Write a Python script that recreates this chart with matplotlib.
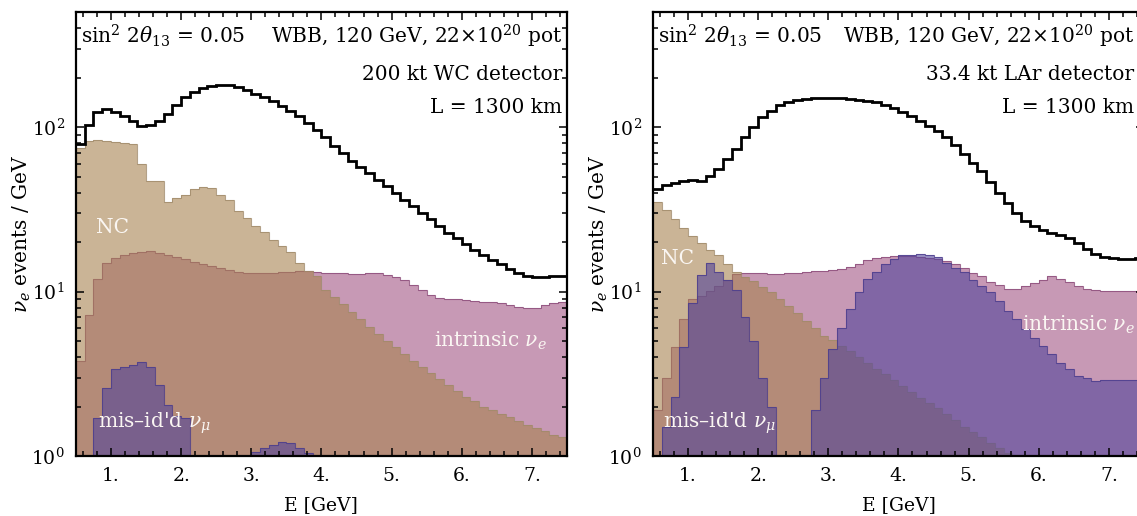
import numpy as np
import matplotlib
matplotlib.use("Agg")
import matplotlib.pyplot as plt
from matplotlib.ticker import LogLocator, MultipleLocator, FixedLocator, FuncFormatter, LogFormatterMathtext, NullFormatter

# ---- binning (GeV) ----
E_MIN, E_MAX, BIN_W = 0.5, 7.5, 0.125
edges = np.arange(E_MIN, E_MAX + BIN_W / 2, BIN_W)

# ---- 200 kt water Cherenkov detector (events / GeV per bin) ----
wc_total = [79, 103, 124, 130, 124, 118, 110, 102, 103, 110,
            121, 136, 153, 164, 173, 178, 182, 180, 176, 168,
            160, 153, 144, 134, 126, 118, 107, 97, 87, 77,
            70, 62.5, 57, 52.5, 48, 44, 40, 36, 33, 30,
            27.5, 25, 22.8, 21.2, 19.5, 18, 16.8, 15.6, 14.7, 13.8,
            13.0, 12.4, 12.2, 12.2, 12.4, 12.5]
wc_nc = [75, 83, 84, 83, 81, 80, 79, 60, 47, 47,
         35, 37, 39, 42, 43.5, 43, 39, 36, 31, 28,
         25, 23, 20.5, 19, 17.5, 15, 13.4, 12.5, 10.3, 9.3,
         8.4, 7.5, 6.8, 6.1, 5.5, 5.0, 4.6, 4.2, 3.8, 3.5,
         3.2, 2.95, 2.7, 2.5, 2.3, 2.15, 2.0, 1.9, 1.8, 1.72,
         1.63, 1.55, 1.48, 1.41, 1.35, 1.3]
wc_intrinsic = [3.8, 7.2, 12, 15, 16, 16.8, 17.2, 17.5, 17.6, 17.3,
                16.8, 16.2, 15.7, 15.2, 14.8, 14.3, 13.9, 13.5, 13.2, 13.0,
                13.0, 13.0, 13.0, 13.1, 13.2, 13.3, 13.4, 13.2, 13.0, 12.9,
                12.9, 12.8, 12.8, 12.9, 12.9, 12.7, 12.3, 11.8, 11.0, 10.2,
                9.5, 9.1, 9.0, 9.0, 8.9, 8.8, 8.7, 8.6, 8.5, 8.3,
                8.1, 7.9, 8.0, 8.3, 8.5, 8.6]
wc_misid = [0.5, 0.5, 1.7, 2.6, 3.4, 3.5, 3.6, 3.75, 3.5, 2.7,
            2.05, 1.75, 1.7, 0.5, 0.5, 0.5, 0.5, 0.5, 0.5, 0.5,
            1.06, 1.12, 1.17, 1.22, 1.2, 1.12, 1.05, 0.5, 0.5, 0.5,
            0.5, 0.5, 0.5, 0.5, 0.5, 0.5, 0.5, 0.5, 0.5, 0.5,
            0.5, 0.5, 0.5, 0.5, 0.5, 0.5, 0.5, 0.5, 0.5, 0.5,
            0.5, 0.5, 0.5, 0.5, 0.5, 0.5]

# ---- 33.4 kt liquid argon detector ----
lar_total = [42.4, 44.4, 46, 47, 48, 47, 50.6, 55.6, 64, 73.6,
             87, 100, 115, 126, 136, 142, 146, 148, 150, 151,
             151, 150, 149, 147, 145, 142, 137, 131, 124, 117,
             110, 102, 95, 87, 78, 69, 61, 54, 46.5, 40,
             34.7, 30, 26.8, 25, 23.8, 22.7, 22.2, 21.2, 19.7, 18.2,
             17, 16.3, 16, 15.8, 15.8, 16]
lar_nc = [35, 31.6, 27.5, 24.5, 21.7, 19.8, 18.0, 16.6, 14.8, 13.2,
          12.3, 11.6, 10.7, 9.9, 9.0, 8.2, 7.4, 6.6, 6.0, 5.4,
          5.1, 4.7, 4.35, 4.0, 3.7, 3.4, 3.15, 2.9, 2.65, 2.45,
          2.25, 2.1, 1.95, 1.8, 1.65, 1.5, 1.4, 1.3, 1.2, 1.12,
          1.04, 0.5, 0.5, 0.5, 0.5, 0.5, 0.5, 0.5, 0.5, 0.5,
          0.5, 0.5, 0.5, 0.5, 0.5, 0.5]
lar_intrinsic = [1.9, 3.0, 4.6, 6.8, 9.0, 9.4, 10.1, 10.9, 11.7, 12.8,
                 13.0, 12.9, 12.9, 12.8, 12.8, 12.9, 13.0, 13.2, 13.3, 13.3,
                 13.5, 13.7, 14.1, 14.8, 15.5, 16.0, 16.2, 16.4, 16.5, 16.5,
                 16.3, 16.0, 15.8, 15.3, 14.7, 14.0, 13.0, 12.5, 11.4, 11.0,
                 10.4, 10.4, 10.9, 11.3, 11.7, 12.5, 12.0, 11.4, 10.8, 10.4,
                 10.2, 10.1, 10.1, 10.1, 10.1, 10.1]
lar_misid = [0.5, 1.5, 2.3, 4.6, 8.5, 12.6, 15.0, 13.2, 11.7, 10.2,
             7.0, 5.0, 3.0, 2.0, 0.5, 0.5, 0.5, 0.5, 1.9, 3.0,
             4.5, 6.0, 7.8, 9.9, 12.0, 13.2, 14.8, 15.9, 16.6, 16.8,
             17.0, 16.6, 16.3, 15.0, 14.0, 13.2, 11.7, 10.9, 9.9, 8.8,
             7.65, 6.8, 5.9, 5.25, 4.7, 4.15, 3.7, 3.36, 3.05, 3.0,
             2.85, 2.9, 2.9, 2.9, 2.9, 2.9]

x_ticks = [1, 2, 3, 4, 5, 6, 7]

# ---- style ----
plt.rcParams["font.family"] = ["DejaVu Serif"]
plt.rcParams["mathtext.fontset"] = "dejavuserif"
plt.rcParams["font.size"] = 15

ALPHA = 0.6
C_INTR, C_INTR_EDGE = "#A35585", "#8A4A78"
C_NC, C_NC_EDGE = "#A88250", "#A08A6A"
C_MIS, C_MIS_EDGE = "#53449B", "#4A3C8C"
LABEL_C = "#FAF6F2"
FS_NOTE = 14.5
FS_AXIS = 13.5

fig = plt.figure(figsize=(11.37, 5.16), dpi=100)
ax_wc = fig.add_axes([0.0668, 0.1163, 0.4318, 0.8595])
ax_lar = fig.add_axes([0.5743, 0.1163, 0.4318, 0.8595])


def layer(ax, vals, face, edge):
    v = np.asarray(vals, dtype=float)
    ax.stairs(v, edges, baseline=1, fill=True, color=face, alpha=ALPHA, lw=0)
    ax.stairs(v, edges, baseline=None, color=edge, lw=0.8, alpha=0.8)


def panel(ax, total, nc, intr, misid, detector, text_x, nc_xy, intr_xy, mis_xy):
    layer(ax, intr, C_INTR, C_INTR_EDGE)
    layer(ax, nc, C_NC, C_NC_EDGE)
    layer(ax, misid, C_MIS, C_MIS_EDGE)
    ax.stairs(np.asarray(total, float), edges, baseline=None, color="black", lw=2.0)

    ax.set_yscale("log")
    ax.set_xlim(E_MIN, E_MAX)
    ax.set_ylim(1, 500)

    ax.xaxis.set_major_locator(FixedLocator(x_ticks))
    ax.xaxis.set_major_formatter(FuncFormatter(lambda v, p: f"{v:.0f}."))
    ax.xaxis.set_minor_locator(MultipleLocator(0.2))
    ax.yaxis.set_major_locator(LogLocator(base=10, numticks=10))
    ax.yaxis.set_major_formatter(LogFormatterMathtext())
    ax.yaxis.set_minor_locator(LogLocator(base=10, subs=np.arange(2, 10), numticks=20))
    ax.yaxis.set_minor_formatter(NullFormatter())

    ax.tick_params(which="both", direction="in", top=True, right=True,
                   width=1.1, labelsize=FS_AXIS)
    ax.tick_params(which="major", length=6, pad=8)
    ax.tick_params(which="minor", length=3.5)
    for s in ax.spines.values():
        s.set_linewidth(1.6)

    ax.set_xlabel("E [GeV]", fontsize=FS_AXIS)
    ax.set_ylabel(r"$\nu_e$ events / GeV", fontsize=14.5)
    ax.xaxis.set_label_coords(0.5, -0.09)
    ax.yaxis.set_label_coords(-0.088, 0.5)

    ax.text(0.01, 0.93, r"sin$^2$ 2$\theta_{13}$ = 0.05", transform=ax.transAxes,
            ha="left", va="baseline", fontsize=FS_NOTE)
    ax.text(text_x, 0.93, r"WBB, 120 GeV, 22$\times$10$^{20}$ pot", transform=ax.transAxes,
            ha="right", va="baseline", fontsize=FS_NOTE)
    ax.text(text_x, 0.848, detector, transform=ax.transAxes,
            ha="right", va="baseline", fontsize=FS_NOTE)
    ax.text(text_x, 0.773, "L = 1300 km", transform=ax.transAxes,
            ha="right", va="baseline", fontsize=FS_NOTE)

    ax.text(*nc_xy, "NC", color=LABEL_C, ha="left", va="center", fontsize=FS_NOTE)
    ax.text(*intr_xy, r"intrinsic $\nu_e$", color=LABEL_C, ha="left", va="center", fontsize=FS_NOTE)
    ax.text(*mis_xy, "mis\u2013id'd $\\nu_\\mu$", color=LABEL_C, ha="left", va="center", fontsize=FS_NOTE)


panel(ax_wc, wc_total, wc_nc, wc_intrinsic, wc_misid, "200 kt WC detector", 0.99,
      (0.78, 24.5), (5.6, 5.0), (0.82, 1.58))
panel(ax_lar, lar_total, lar_nc, lar_intrinsic, lar_misid, "33.4 kt LAr detector", 0.98,
      (0.62, 16.0), (5.76, 6.3), (0.65, 1.58))

fig.savefig("out.png", dpi=100)
